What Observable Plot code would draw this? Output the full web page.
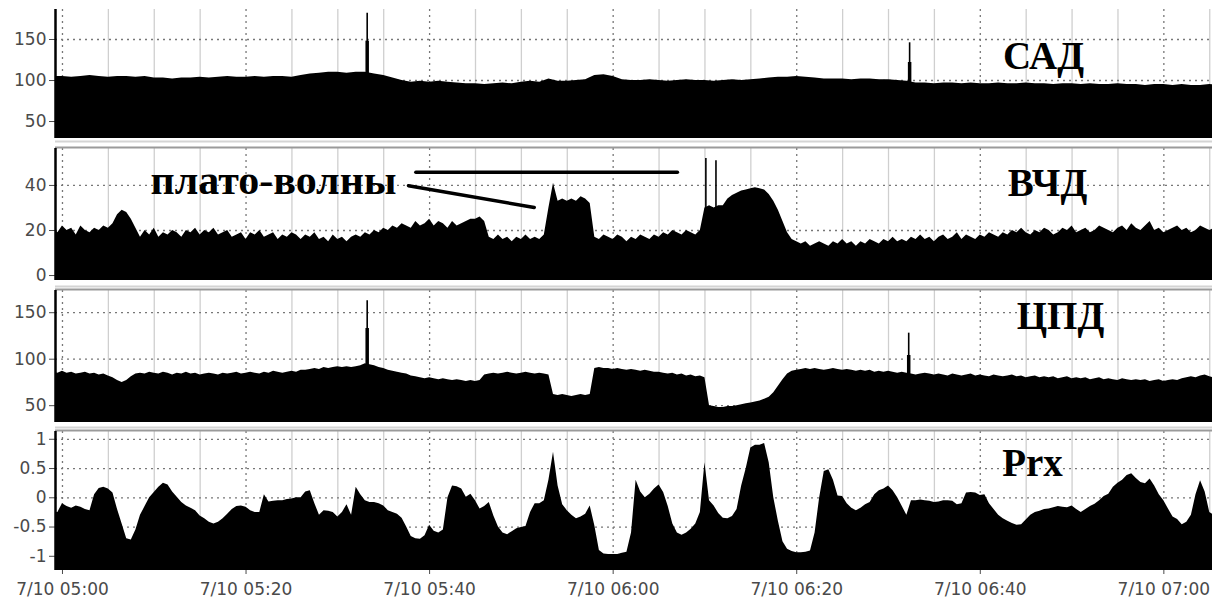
<!DOCTYPE html>
<html><head><meta charset="utf-8">
<script src="https://cdn.jsdelivr.net/npm/d3@7"></script>
<script src="https://cdn.jsdelivr.net/npm/@observablehq/plot@0.6"></script>
<style>
html,body{margin:0;padding:0;background:#fff;}
#chart svg{display:block;}
</style></head><body><div id="chart"></div>
<script>
// ---- time axis (minutes after 7/10 05:00) ----
const tickMinutes = [0, 20, 40, 60, 80, 100, 120];
const tickLabels = ["7/10 05:00","7/10 05:20","7/10 05:40","7/10 06:00","7/10 06:20","7/10 06:40","7/10 07:00"];
const minorMinutes = [5,10,15,25,30,35,45,50,55,65,70,75,85,90,95,105,110,115,125];
const domainMinutes = [-0.76, 125.3];
const firstMinute = -1;
const sadStep = 1;      // САД sampled every minute
const fineStep = 0.5;   // ВЧД, ЦПД, Prx sampled every half minute

// ---- САД ----
const sadValues = [105,105,104,105,106,105,104,105,105,104,105,
103,103,102,103,103,104,103,
104,105,104,104,105,104,105,105,104,106,
108,109,110,110,109,110,
110,
108,106,103,100,98,
99,98,99,98,97,
96,96,95,96,97,96,
98,99,98,102,99,99,100,101,
106,107,105,
101,100,100,101,100,99,100,101,100,100,99,100,101,100,101,102,
103,104,104,105,104,103,102,
102,102,101,102,102,101,101,100,99,
97,97,96,97,97,96,97,96,96,97,96,96,97,96,96,95,96,96,95,96,95,95,96,95,95,94,95,95,94,95,94,94,95,94];
const sadSpikeMinutes = [33.2, 92.3];
const sadSpikePeak = [182, 146];
const sadSpikeMid = [148, 122];

// ---- ВЧД ----
const vchdValues = [21,19,22,20,21,18,22,20,19,21,20,22,21,
23,27,29,28,25,21,
17,20,18,21,17,19,18,20,19,17,20,19,21,18,20,19,21,18,19,20,17,18,19,16,19,18,20,17,18,19,16,18,17,19,18,16,18,17,19,16,17,15,18,16,17,15,17,18,17,19,
18,20,19,21,20,22,21,23,22,21,24,22,23,25,22,24,23,21,24,22,23,24,25,25,26,24,
17,16,18,16,17,15,17,16,18,16,17,16,18,
30,41,33,34,33,34,33,35,34,32,
17,16,18,17,16,18,17,15,17,16,18,17,16,18,17,19,18,20,19,18,20,19,18,20,
30,31,30,31,31,
34,35.5,36.5,37.5,38,38.5,39,38.5,38,36,33,29,24,19,16,15,
14,15,13,14,15,14,13,15,14,16,14,15,13,15,14,16,15,14,16,15,17,15,
16,15,17,16,18,16,17,15,17,18,16,17,19,16,18,17,16,18,17,19,18,17,
19,18,20,19,21,19,18,20,19,21,20,18,19,21,20,22,19,20,21,19,20,22,21,20,19,21,22,20,23,21,20,22,24,20,21,19,20,21,22,20,21,19,20,22,21,20,21,20];
const vchdSpikeMinutes = [70.1, 71.2];
const vchdSpikePeak = [52, 51];

// ---- ЦПД ----
const cpdValues = [86,85,87,85,86,84,85,86,84,85,83,84,82,
80,77,75,77,81,84,
85,84,86,85,84,86,85,83,85,84,86,84,85,83,84,85,84,83,85,84,85,86,84,85,86,85,84,86,85,87,86,85,86,87,86,88,
88,89,90,89,91,90,91,92,91,92,91,92,93,95,
94,93,91,90,88,87,86,85,84,82,81,80,
79,80,79,78,79,78,77,78,77,76,77,76,77,
83,84,85,84,85,86,85,84,85,86,85,84,85,84,83,
62,61,62,61,60,61,62,61,62,
90,91,90,90,89,90,89,88,89,88,87,88,87,86,86,85,84,85,83,84,82,83,81,82,80,
50,49,48,48,49,49,50,51,52,53,54,55,57,59,
64,71,78,84,87,88,
89,90,89,90,89,88,89,90,89,88,89,88,87,88,87,88,86,87,86,87,86,85,86,85,
84,83,84,85,84,83,84,83,82,84,
83,82,83,84,82,83,82,81,83,82,
81,82,83,81,82,80,81,82,80,81,
80,81,79,80,81,79,80,79,80,78,
79,80,78,79,78,77,79,78,77,78,
77,78,76,77,78,76,77,78,77,79,
80,81,80,82,83,81,80,79];
const cpdSpikeMinutes = [33.2, 92.2];
const cpdSpikePeak = [163, 128];
const cpdSpikeMid = [133, 104];

// ---- Prx ----
const prxValues = [-0.25,-0.25,-0.1,-0.15,-0.18,-0.14,-0.16,-0.2,-0.22,0.05,
0.16,0.18,0.15,0.08,-0.2,-0.45,-0.7,-0.72,-0.55,-0.3,
-0.15,0,0.09,0.18,0.25,0.22,0.1,0.01,-0.08,-0.14,
-0.18,-0.22,-0.31,-0.36,-0.42,-0.45,-0.42,-0.36,-0.28,-0.2,
-0.15,-0.14,-0.16,-0.22,-0.25,-0.25,0.05,-0.07,-0.06,-0.05,
-0.05,-0.03,-0.02,0,0,0.1,0.12,-0.1,-0.3,-0.22,
-0.23,-0.25,-0.33,-0.25,-0.12,-0.3,0.18,0.05,-0.05,-0.08,
-0.08,-0.1,-0.14,-0.22,-0.25,-0.28,-0.35,-0.5,-0.66,-0.7,
-0.71,
-0.65,-0.47,-0.57,-0.6,-0.55,0,0.2,0.19,0.15,0.01,
0.06,-0.05,-0.19,-0.15,-0.08,-0.31,-0.5,-0.6,-0.63,-0.58,
-0.53,-0.51,-0.49,-0.25,-0.1,-0.1,-0.05,0.3,0.78,0.2,
-0.12,-0.22,-0.3,-0.36,-0.33,-0.28,-0.14,-0.48,-0.9,-0.96,
-0.97,-0.97,-0.97,-0.95,-0.93,-0.6,0.3,0.1,0,0.06,
0.15,0.22,0.09,-0.15,-0.45,-0.6,-0.64,-0.6,-0.54,-0.45,
-0.25,0.6,-0.05,-0.14,-0.27,-0.35,-0.36,-0.32,-0.2,0.2,
0.5,0.85,0.9,0.9,0.93,0.6,0,-0.4,-0.75,-0.88,
-0.92,-0.94,-0.94,-0.93,-0.91,-0.6,0,
0.45,0.48,0.3,0.03,0.02,-0.1,-0.18,-0.22,-0.18,-0.12,
-0.08,0.05,0.12,0.15,0.2,0.12,0,-0.15,-0.3,-0.05,
-0.05,-0.04,-0.05,-0.06,-0.08,-0.07,-0.05,-0.05,-0.06,-0.12,
-0.1,0.08,0.09,0.08,0.04,0.05,-0.1,-0.2,-0.3,-0.36,
-0.4,-0.44,-0.47,-0.46,-0.38,-0.3,-0.25,-0.23,-0.2,-0.19,
-0.17,-0.15,-0.16,-0.17,-0.14,-0.2,-0.25,-0.2,-0.15,-0.11,
-0.05,0.02,0.06,0.18,0.25,0.3,0.38,0.41,0.33,0.26,
0.24,0.32,0.2,0.05,-0.05,-0.19,-0.33,-0.37,-0.46,-0.42,
-0.3,0.05,0.29,0.1,-0.25,-0.3,-0.3];

// ---- axes ----
const sadTicks = [50, 100, 150], sadTickLabels = ["50", "100", "150"];
const vchdTicks = [0, 20, 40], vchdTickLabels = ["0", "20", "40"];
const cpdTicks = [50, 100, 150], cpdTickLabels = ["50", "100", "150"];
const prxTicks = [-1, -0.5, 0, 0.5, 1], prxTickLabels = ["-1", "-0.5", "0", "0.5", "1"];
const sadDomain = [29.3, 186.6];
const vchdDomain = [-2.2, 56.4];
const cpdDomain = [31.9, 173.9];
const prxDomain = [-1.243, 1.133];

// ---- annotation "плато-волны" ----
const annoStartMin = [38.5, 37.7], annoStartVal = [45.9, 39.9];
const annoEndMin = [67.0, 51.4], annoEndVal = [45.9, 30.2];

const t0 = Date.UTC(2000, 6, 10, 5, 0);
const toDate = m => new Date(t0 + m * 60000);
const tickDates = tickMinutes.map(toDate);
const tickLabelByMs = new Map(tickMinutes.map((m, i) => [+toDate(m), tickLabels[i]]));
const minorDates = minorMinutes.map(toDate);
const series = (values, step) => values.map((v, i) => ({date: toDate(firstMinute + i * step), v}));
const spikes = (mins, peaks, mids) => mins.map((m, i) => ({date: toDate(m), peak: peaks[i], mid: mids ? mids[i] : null}));

function panel(o) {
  const labelMap = new Map(o.ticks.map((t, i) => [t, o.tickLabels[i]]));
  const marks = [
    Plot.ruleX(minorDates, {stroke: "#cfcfcf", strokeWidth: 1.3}),
    Plot.ruleX(tickDates, {stroke: "#777", strokeWidth: 1.3, strokeDasharray: "2,4"}),
    Plot.ruleY(o.ticks, {stroke: "#777", strokeWidth: 1.3, strokeDasharray: "2,4"}),
    Plot.areaY(o.data, {x: "date", y1: o.domain[0], y2: "v", fill: "black", clip: true})
  ];
  if (o.spikes) {
    marks.push(Plot.ruleX(o.spikes, {x: "date", y1: o.domain[0], y2: "peak", stroke: "black", strokeWidth: 1.6}));
    if (o.spikes[0].mid != null) marks.push(Plot.ruleX(o.spikes, {x: "date", y1: o.domain[0], y2: "mid", stroke: "black", strokeWidth: 3.5}));
  }
  if (o.extra) marks.push(...o.extra);
  if (o.topBorder) {
    marks.push(Plot.ruleY([o.domain[1]], {stroke: "#d4d4d4", strokeWidth: 2, dy: o.lightDy}));
    marks.push(Plot.ruleY([o.domain[1]], {stroke: "#9a9a9a", strokeWidth: 2, dy: -1}));
  }
  marks.push(Plot.ruleX([toDate(domainMinutes[0])], {stroke: "black", strokeWidth: 2.5}));
  marks.push(Plot.text([o.label], {text: d => d, frameAnchor: "top-left", dx: o.labelDx, dy: o.labelDy,
    textAnchor: "middle", lineAnchor: "bottom", fontFamily: "Liberation Serif", fontWeight: "bold",
    fontSize: 39, fill: "black"}));
  return Plot.plot({
    width: 1219, height: o.height, marginLeft: 55, marginRight: 7,
    marginTop: o.marginTop, marginBottom: o.marginBottom,
    style: {fontFamily: "DejaVu Sans", fontSize: "17px", color: "#4a4a4a", background: "white"},
    x: {type: "utc", domain: domainMinutes.map(toDate), ticks: tickDates,
        tickFormat: d => tickLabelByMs.get(+d), axis: o.showX ? "bottom" : null,
        tickSize: 4, tickPadding: 8, label: null},
    y: {domain: o.domain, ticks: o.ticks, tickFormat: d => labelMap.get(d), tickSize: 6, tickPadding: 3, label: null},
    marks
  });
}

const annoIdx = [0, 1];
const chart = document.getElementById("chart");
chart.append(panel({data: series(sadValues, sadStep), domain: sadDomain, ticks: sadTicks, tickLabels: sadTickLabels,
  spikes: spikes(sadSpikeMinutes, sadSpikePeak, sadSpikeMid), label: "САД", labelDx: 988, labelDy: 59,
  height: 140, marginTop: 9, marginBottom: 2}));
chart.append(panel({data: series(vchdValues, fineStep), domain: vchdDomain, ticks: vchdTicks, tickLabels: vchdTickLabels,
  spikes: spikes(vchdSpikeMinutes, vchdSpikePeak), label: "ВЧД", labelDx: 992, labelDy: 47,
  height: 145, marginTop: 8, marginBottom: 5, topBorder: true, lightDy: -7,
  extra: [
    Plot.link(annoIdx, {x1: i => toDate(annoStartMin[i]), y1: i => annoStartVal[i],
      x2: i => toDate(annoEndMin[i]), y2: i => annoEndVal[i], stroke: "black", strokeWidth: 3.5, strokeLinecap: "round"}),
    Plot.text(["плато-волны"], {text: d => d, frameAnchor: "top-left", dx: 95, dy: 45, textAnchor: "start",
      lineAnchor: "bottom", fontFamily: "Liberation Serif", fontWeight: "bold", fontSize: 42, fill: "black"})
  ]}));
chart.append(panel({data: series(cpdValues, fineStep), domain: cpdDomain, ticks: cpdTicks, tickLabels: cpdTickLabels,
  spikes: spikes(cpdSpikeMinutes, cpdSpikePeak, cpdSpikeMid), label: "ЦПД", labelDx: 1005, labelDy: 38,
  height: 141, marginTop: 5, marginBottom: 4, topBorder: true, lightDy: -4}));
chart.append(panel({data: series(prxValues, fineStep), domain: prxDomain, ticks: prxTicks, tickLabels: prxTickLabels,
  label: "Prx", labelDx: 977, labelDy: 44,
  height: 174, marginTop: 5, marginBottom: 30, topBorder: true, lightDy: -4, showX: true}));
</script></body></html>
